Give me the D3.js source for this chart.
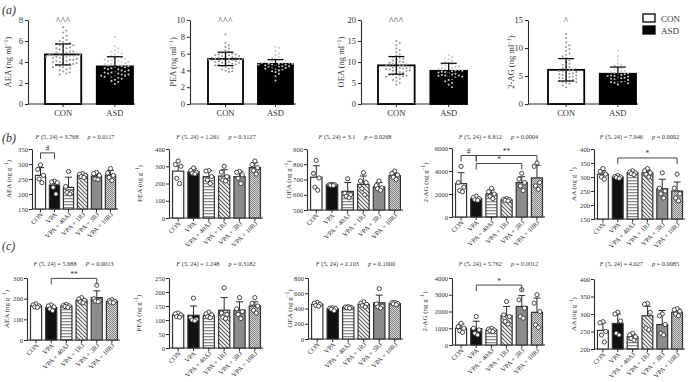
<!DOCTYPE html>
<html><head><meta charset="utf-8">
<script src="https://cdn.jsdelivr.net/npm/d3@7"></script>
<style>
body{margin:0;background:#fff}
svg{display:block}
text{font-family:"Liberation Serif","Times New Roman",serif;fill:#333}
</style>
</head><body>
<svg id="chart" width="689" height="382"></svg>
<script>
// ---------------- DATA ----------------
// Row (a): human plasma, CON vs ASD
const cohortGroups = ["CON", "ASD"];
const aAnalytes = ["AEA", "PEA", "OEA", "2-AG"];
const aTicks_AEA = [0, 2, 4, 6, 8];
const aTicks_PEA = [0, 2, 4, 6, 8, 10];
const aTicks_OEA = [0, 5, 10, 15, 20];
const aTicks_AG = [0, 5, 10, 15];
const aMean_AEA = [4.72, 3.58], aSd_AEA = [1.0, 0.92];
const aMean_PEA = [5.37, 4.78], aSd_PEA = [0.8, 0.5];
const aMean_OEA = [9.2, 7.9], aSd_OEA = [2.1, 1.8];
const aMean_AG = [6.1, 5.4], aSd_AG = [2.0, 1.2];
const aSig = ["^^^", "^^^", "^^^", "^"];
const aAEA_CON = [7.3,7.0,6.8,6.5,6.3,6.1,6.0,5.9,5.8,5.7,5.7,5.6,5.6,5.5,5.4,5.3,5.3,5.2,5.1,5.0,5.0,4.9,4.9,4.8,4.8,4.8,4.7,4.7,4.7,4.6,4.6,4.5,4.5,4.5,4.4,4.4,4.3,4.3,4.2,4.2,4.1,4.1,4.0,4.0,3.9,3.9,3.8,3.8,3.7,3.7,3.6,3.5,3.5,3.4,3.3,3.2,3.1,3.0,2.9,2.8];
const aAEA_ASD = [6.4,5.5,5.3,5.1,5.0,4.9,4.8,4.7,4.6,4.5,4.5,4.4,4.3,4.3,4.2,4.2,4.1,4.1,4.0,4.0,3.9,3.9,3.8,3.8,3.7,3.7,3.6,3.6,3.5,3.5,3.4,3.4,3.3,3.3,3.2,3.2,3.1,3.1,3.0,3.0,2.9,2.9,2.8,2.8,2.7,2.7,2.7,2.6,2.6,2.5,2.4,2.3,2.2,2.1,1.9];
const aPEA_CON = [8.3,7.3,7.0,6.8,6.6,6.4,6.2,6.1,6.0,6.0,5.9,5.9,5.8,5.8,5.7,5.7,5.6,5.6,5.5,5.5,5.5,5.4,5.4,5.4,5.3,5.3,5.3,5.2,5.2,5.1,5.1,5.0,5.0,4.9,4.9,4.8,4.8,4.7,4.7,4.6,4.6,4.5,4.4,4.3,4.2,4.1,4.0,3.9,3.8];
const aPEA_ASD = [6.8,6.7,6.3,6.0,5.8,5.6,5.5,5.4,5.3,5.2,5.2,5.1,5.1,5.0,5.0,4.9,4.9,4.9,4.8,4.8,4.8,4.7,4.7,4.7,4.6,4.6,4.5,4.5,4.4,4.4,4.3,4.3,4.2,4.2,4.1,4.0,3.9,3.8,3.6,3.3,2.8];
const aOEA_CON = [15.0,14.5,14.0,13.2,12.8,12.3,11.8,11.5,11.2,11.0,10.8,10.5,10.3,10.1,10.0,9.8,9.7,9.5,9.4,9.3,9.2,9.1,9.0,8.9,8.8,8.7,8.6,8.5,8.4,8.3,8.2,8.1,8.0,7.9,7.8,7.6,7.4,7.2,7.0,6.9,6.8,6.7,6.6,6.5,6.3,6.0,5.7,5.4,5.0,4.6];
const aOEA_ASD = [11.6,11.2,10.9,10.6,10.3,10.0,9.8,9.6,9.5,9.4,9.2,9.0,8.9,8.8,8.6,8.5,8.4,8.3,8.2,8.1,8.0,7.9,7.8,7.7,7.6,7.5,7.4,7.2,7.0,6.9,6.8,6.8,6.7,6.6,6.5,6.3,6.0,5.7,5.4,5.0,4.6,4.0];
const aAG_CON = [12.5,11.8,11.0,10.5,10.2,9.8,9.5,9.0,8.8,8.5,8.2,7.8,7.5,7.2,7.0,6.8,6.6,6.4,6.2,6.1,6.0,5.9,5.8,5.7,5.6,5.5,5.4,5.3,5.2,5.1,5.0,4.9,4.8,4.7,4.6,4.5,4.4,4.3,4.2,4.1,4.0,3.9,3.8,3.6,3.3,3.0];
const aAG_ASD = [9.5,8.5,7.8,7.2,7.0,6.8,6.6,6.4,6.2,6.0,5.9,5.8,5.7,5.6,5.5,5.4,5.3,5.2,5.1,5.0,5.0,4.9,4.8,4.7,4.6,4.5,4.4,4.3,4.2,4.1,4.0,3.9,3.8,3.7,3.5];

// Rows (b) and (c): treatment groups
const treatments = ["CON", "VPA", "VPA + 40AJ", "VPA + 1RJ", "VPA + 3RJ", "VPA + 10RJ"];
const bcAnalytes = ["AEA", "PEA", "OEA", "2-AG", "AA"];
const bF = ["3.768", "1.261", "3.1", "6.812", "7.946"];
const bP = ["0.0117", "0.3127", "0.0268", "0.0004", "0.0002"];
const cF = ["5.688", "1.248", "2.103", "5.762", "4.027"];
const cP = ["0.0013", "0.3182", "0.1000", "0.0012", "0.0085"];

const bTicks_AEA = [150, 200, 250, 300, 350];
const bMean_AEA = [262, 230, 222, 263, 260, 263];
const bSd_AEA = [26, 12, 34, 6, 10, 16];
const bPts_AEA = [[297,282,262,250,238],[243,240,238,222,200],[275,225,205,205,200],[268,266,262,258,255],[272,268,262,250,248],[285,270,262,255,245]];
const bTicks_PEA = [0, 100, 200, 300, 400];
const bMean_PEA = [272, 268, 240, 243, 240, 292];
const bSd_PEA = [30, 17, 35, 37, 30, 28];
const bPts_PEA = [[330,310,300,230,200],[290,275,265,260,255],[275,272,240,220,200],[300,265,240,220,215],[270,265,250,230,200],[330,310,292,275,255]];
const bTicks_OEA = [500, 600, 700, 800, 900];
const bMean_OEA = [715, 665, 622, 668, 652, 725];
const bSd_OEA = [75, 4, 58, 55, 28, 15];
const bPts_OEA = [[825,740,710,650,630],[668,666,665,662,660],[705,610,600,590,580],[745,690,680,640,600],[690,660,645,640,630],[755,740,730,715,700]];
const bTicks_AG = [0, 2000, 4000, 6000];
const bMean_AG = [2900, 1600, 2000, 1500, 3000, 3400];
const bSd_AG = [950, 150, 350, 100, 500, 1100];
const bPts_AG = [[4400,3000,2600,2300,2200],[1800,1700,1600,1500,1450],[2500,2200,2000,1800,1600],[1600,1550,1500,1450,1400],[3800,3300,3000,2700,2300],[4700,4400,3000,2700,2400]];
const bTicks_AA = [150, 200, 250, 300, 350, 400];
const bMean_AA = [310, 300, 315, 315, 258, 250];
const bSd_AA = [12, 5, 5, 10, 34, 32];
const bPts_AA = [[330,320,310,300,292],[305,302,300,298,295],[322,318,315,312,308],[330,322,315,310,300],[315,260,250,240,225],[310,260,240,225,215]];

const cTicks_AEA = [0, 100, 200, 300];
const cMean_AEA = [165, 157, 165, 192, 205, 187];
const cSd_AEA = [7, 8, 7, 8, 33, 5];
const cPts_AEA = [[175,170,165,160,158],[170,165,160,150,142],[172,168,165,162,158],[205,198,192,185,180],[265,200,190,188,185],[195,190,187,183,180]];
const cTicks_PEA = [0, 50, 100, 150, 200, 250];
const cMean_PEA = [118, 117, 117, 135, 135, 150];
const cSd_PEA = [7, 33, 8, 45, 30, 15];
const cPts_PEA = [[125,122,118,112,110],[178,108,102,100,97],[128,122,118,112,108],[215,125,120,110,105],[180,140,130,120,105],[180,160,150,135,125]];
const cTicks_OEA = [0, 200, 400, 600, 800];
const cMean_OEA = [455, 395, 415, 455, 475, 465];
const cSd_OEA = [15, 15, 10, 15, 100, 10];
const cPts_OEA = [[480,470,455,440,430],[410,405,400,390,370],[425,420,415,410,405],[490,470,455,440,420],[660,460,430,420,405],[480,475,465,460,450]];
const cTicks_AG = [0, 1000, 2000, 3000, 4000];
const cMean_AG = [1000, 980, 900, 1750, 2300, 1950];
const cSd_AG = [250, 440, 100, 550, 650, 850];
const cPts_AG = [[1300,1100,1000,850,750],[1700,1000,900,700,600],[1000,950,900,850,800],[2600,1800,1700,1400,1250],[3300,2700,2200,1700,1600],[3000,2500,2000,1200,1050]];
const cTicks_AA = [200, 250, 300, 350, 400];
const cMean_AA = [253, 273, 235, 295, 270, 305];
const cSd_AA = [22, 27, 7, 27, 40, 10];
const cPts_AA = [[278,275,250,240,220],[305,300,280,245,240],[245,240,235,230,225],[330,328,305,260,255],[300,295,270,245,240],[315,312,308,300,295]];

// significance brackets: [fromIndex, toIndex, label, level]
const bBr_AEA = [[0, 1, "#", 337]];
const bBr_AG = [[0, 1, "#", 5350], [1, 5, "**", 5350], [1, 4, "*", 4650]];
const bBr_AA = [[1, 5, "*", 368]];
const cBr_AEA = [[1, 4, "**", 298]];
const cBr_AG = [[1, 4, "*", 3580]];

// ---------------- LAYOUT / STYLE ----------------
const svg = d3.select("#chart");
const ink = "#2b2b2b";
const txt = "#333";
const serif = '"Liberation Serif","Times New Roman",serif';
const defs = svg.append("defs");
function pattern(id, w, h, draw) {
  const p = defs.append("pattern").attr("id", id).attr("patternUnits", "userSpaceOnUse")
    .attr("width", w).attr("height", h);
  draw(p, w, h);
}
pattern("hl", 4, 3, (p, w, h) => {
  p.append("rect").attr("width", w).attr("height", h).attr("fill", "#fff");
  p.append("rect").attr("width", w).attr("height", 1.3).attr("fill", "#8a8a8a");
});
pattern("dg", 4, 4, (p) => {
  p.append("rect").attr("width", 4).attr("height", 4).attr("fill", "#fff");
  p.append("path").attr("d", "M-1,-1L5,5M-1,3L1,5M3,-1L5,1").attr("stroke", "#5a5a5a").attr("stroke-width", 1.1);
});
pattern("ck", 2, 2, (p) => {
  p.append("rect").attr("width", 2).attr("height", 2).attr("fill", "#d8d8d8");
  p.append("rect").attr("width", 1).attr("height", 1).attr("fill", "#808080");
  p.append("rect").attr("x", 1).attr("y", 1).attr("width", 1).attr("height", 1).attr("fill", "#808080");
});
const treatFill = ["#fff", "#111", "url(#hl)", "url(#dg)", "#8c8c8c", "url(#ck)"];

function T(sel) { return sel.append("text").attr("fill", txt).attr("font-family", serif); }
function unitLabel(sel, name, unit) {
  sel.append("tspan").text(name + " (" + unit);
  sel.append("tspan").attr("dy", -3).attr("font-size", "0.72em").text("\u22121");
  sel.append("tspan").attr("dy", 3).text(")");
}
function styleAxis(g, fs) {
  g.attr("font-family", serif);
  g.select(".domain").attr("stroke", ink).attr("stroke-width", 1.1);
  g.selectAll(".tick line").attr("stroke", ink).attr("stroke-width", 1);
  g.selectAll(".tick text").attr("fill", txt).attr("font-size", fs).attr("font-family", serif);
}

// panel letters
[["(a)", 14], ["(b)", 142], ["(c)", 250]].forEach(([t, y]) => {
  T(svg).attr("x", 2).attr("y", y).attr("font-size", 12).attr("font-style", "italic").text(t);
});

// ---------- row (a) ----------
const aLayout = [
  { ax: 28, ax1: 135, bx0: 45, bx1: 133, lx: 11 },
  { ax: 190, ax1: 296, bx0: 208, bx1: 293, lx: 176 },
  { ax: 361, ax1: 468, bx0: 378, bx1: 467, lx: 344 },
  { ax: 528, ax1: 638, bx0: 548, bx1: 636, lx: 514 }
];
const aTicksAll = [aTicks_AEA, aTicks_PEA, aTicks_OEA, aTicks_AG];
const aMeans = [aMean_AEA, aMean_PEA, aMean_OEA, aMean_AG];
const aSds = [aSd_AEA, aSd_PEA, aSd_OEA, aSd_AG];
const aPts = [[aAEA_CON, aAEA_ASD], [aPEA_CON, aPEA_ASD], [aOEA_CON, aOEA_ASD], [aAG_CON, aAG_ASD]];
const aYTop = 20, aYBot = 104;

function beeswarm(vals, y, cx, r, gap, maxHalf) {
  const placed = [];
  const sorted = vals.slice().sort((a, b) => b - a);
  const step = 2 * r + gap;
  sorted.forEach(v => {
    const py = y(v);
    let best = null;
    for (let k = 0; k < 60 && best === null; k++) {
      const off = (k % 2 ? 1 : -1) * Math.ceil(k / 2) * step;
      if (Math.abs(off) > maxHalf) continue;
      const ok = placed.every(p => Math.hypot(p.x - (cx + off), p.y - py) >= step - 0.2);
      if (ok) best = off;
    }
    if (best === null) best = 0;
    placed.push({ x: cx + best, y: py });
  });
  return placed;
}

aAnalytes.forEach((an, i) => {
  const L = aLayout[i], ticks = aTicksAll[i];
  const g = svg.append("g");
  const y = d3.scaleLinear().domain([ticks[0], ticks[ticks.length - 1]]).range([aYBot, aYTop]);
  const x = d3.scaleBand().domain(cohortGroups).range([L.bx0, L.bx1]).paddingInner(0.3).paddingOuter(0);
  const ya = g.append("g").attr("transform", `translate(${L.ax},0)`)
    .call(d3.axisLeft(y).tickValues(ticks).tickSize(3).tickSizeOuter(0).tickPadding(2).tickFormat(d3.format("d")));
  styleAxis(ya, 8.5);
  g.append("line").attr("x1", L.ax).attr("x2", L.ax1).attr("y1", aYBot).attr("y2", aYBot).attr("stroke", ink).attr("stroke-width", 1.1);
  cohortGroups.forEach((c, j) => {
    const cx = x(c) + x.bandwidth() / 2;
    g.append("line").attr("x1", cx).attr("x2", cx).attr("y1", aYBot).attr("y2", aYBot + 3).attr("stroke", ink);
    T(g).attr("x", cx).attr("y", aYBot + 12).attr("text-anchor", "middle").attr("font-size", 8.5).text(c);
    const m = aMeans[i][j], s = aSds[i][j];
    g.append("rect").attr("x", x(c)).attr("y", y(m)).attr("width", x.bandwidth()).attr("height", aYBot - y(m))
      .attr("fill", j === 0 ? "#fff" : "#000").attr("stroke", "#000").attr("stroke-width", 1.8);
    const pts = beeswarm(aPts[i][j], y, cx, 1.05, 1.3, x.bandwidth() / 2 + 2);
    g.selectAll(null).data(pts).enter().append("circle")
      .attr("cx", d => d.x).attr("cy", d => d.y).attr("r", 1.05)
      .attr("fill", j === 0 ? "#9a9a9a" : "#c8c8c8");
    g.append("line").attr("x1", cx).attr("x2", cx).attr("y1", y(m - s)).attr("y2", y(m + s)).attr("stroke", "#000").attr("stroke-width", 1.2);
    [m - s, m + s].forEach(v => g.append("line").attr("x1", cx - 8).attr("x2", cx + 8).attr("y1", y(v)).attr("y2", y(v)).attr("stroke", "#000").attr("stroke-width", 1.2));
  });
  T(g).attr("x", x("CON") + x.bandwidth() / 2).attr("y", aYTop + 4).attr("text-anchor", "middle")
    .attr("font-size", 9.5).attr("letter-spacing", 0.5).text(aSig[i]);
  T(g).attr("transform", `translate(${L.lx},${(aYTop + aYBot) / 2}) rotate(-90)`)
    .attr("text-anchor", "middle").attr("font-size", 8.5).call(t => unitLabel(t, an, "ng ml"));
});
// legend
cohortGroups.forEach((c, j) => {
  const yy = 14 + j * 12;
  svg.append("rect").attr("x", 643).attr("y", yy).attr("width", 12).attr("height", 8)
    .attr("fill", j === 0 ? "#fff" : "#000").attr("stroke", "#000").attr("stroke-width", 1.3);
  T(svg).attr("x", 661).attr("y", yy + 7.5).attr("font-size", 9).text(c);
});

// ---------- rows (b) and (c) ----------
function drawTreat(L, an, ticks, means, sds, pts, brackets, F, P, pUpper, pItalicVal) {
  const g = svg.append("g");
  const y = d3.scaleLinear().domain([ticks[0], ticks[ticks.length - 1]]).range([L.yb, L.yt]);
  const x = d3.scaleBand().domain(treatments).range([L.x0 + 2, L.x1 - 1]).paddingInner(0.27).paddingOuter(0.1);
  const ya = g.append("g").attr("transform", `translate(${L.x0},0)`)
    .call(d3.axisLeft(y).tickValues(ticks).tickSize(3).tickSizeOuter(0).tickPadding(1).tickFormat(d3.format("d")));
  styleAxis(ya, 6.6);
  g.append("line").attr("x1", L.x0).attr("x2", L.x1).attr("y1", L.yb).attr("y2", L.yb).attr("stroke", ink).attr("stroke-width", 1.1);
  treatments.forEach((t, j) => {
    const cx = x(t) + x.bandwidth() / 2;
    const m = means[j], s = sds[j];
    g.append("line").attr("x1", cx).attr("x2", cx).attr("y1", L.yb).attr("y2", L.yb + 3).attr("stroke", ink);
    T(g).attr("transform", `translate(${cx + 3},${L.yb + 6}) rotate(-45)`)
      .attr("text-anchor", "end").attr("font-size", 6.7).text(t);
    g.append("line").attr("x1", cx).attr("x2", cx).attr("y1", y(m)).attr("y2", y(m + s)).attr("stroke", ink).attr("stroke-width", 1);
    g.append("line").attr("x1", cx - 3.5).attr("x2", cx + 3.5).attr("y1", y(m + s)).attr("y2", y(m + s)).attr("stroke", ink).attr("stroke-width", 1);
    g.append("rect").attr("x", x(t)).attr("y", y(m)).attr("width", x.bandwidth()).attr("height", L.yb - y(m))
      .attr("fill", treatFill[j]).attr("stroke", "#333").attr("stroke-width", 1.2);
    const offs = [0, -2.8, 2.8, -1.4, 1.4];
    const sorted = pts[j].slice().sort((a, b) => b - a);
    g.selectAll(null).data(sorted).enter().append("circle")
      .attr("cx", (d, k) => cx + offs[k % offs.length]).attr("cy", d => y(d)).attr("r", 2.1)
      .attr("fill", "#fff").attr("stroke", "#333").attr("stroke-width", 0.9);
  });
  brackets.forEach(([a, b, lab, lev]) => {
    const xa = x(treatments[a]) + x.bandwidth() / 2, xb = x(treatments[b]) + x.bandwidth() / 2, yy = y(lev);
    g.append("path").attr("d", `M${xa},${yy + 6}V${yy}H${xb}V${yy + 6}`).attr("fill", "none").attr("stroke", "#444").attr("stroke-width", 1);
    T(g).attr("x", (xa + xb) / 2).attr("y", yy - 1.5).attr("text-anchor", "middle").attr("font-size", 7.5).text(lab);
  });
  // title
  const tt = T(g).attr("x", (L.x0 + L.x1) / 2).attr("y", L.ty).attr("text-anchor", "middle").attr("font-size", 6.3);
  tt.append("tspan").attr("font-style", "italic").text("F");
  tt.append("tspan").text(" (5, 24) = " + F);
  tt.append("tspan").attr("dx", 9).attr("font-style", "italic").text(pUpper ? "P" : "p");
  tt.append("tspan").text(" = ");
  tt.append("tspan").attr("font-style", pItalicVal ? "italic" : "normal").text(P);
  T(g).attr("transform", `translate(${L.lx},${(L.yt + L.yb) / 2}) rotate(-90)`)
    .attr("text-anchor", "middle").attr("font-size", 7).call(t => unitLabel(t, an, "ng g"));
}

const bLayout = [
  { x0: 32, x1: 118, yt: 149, yb: 209, lx: 11, ty: 139 },
  { x0: 169, x1: 263, yt: 149, yb: 218, lx: 142, ty: 139 },
  { x0: 307, x1: 403, yt: 149, yb: 210, lx: 291, ty: 139 },
  { x0: 452, x1: 545, yt: 148, yb: 217, lx: 428, ty: 139 },
  { x0: 594, x1: 685, yt: 149, yb: 219, lx: 576, ty: 139 }
];
const cLayout = [
  { x0: 27, x1: 120, yt: 278, yb: 340, lx: 9, ty: 266 },
  { x0: 169, x1: 263, yt: 278, yb: 348, lx: 141, ty: 266 },
  { x0: 308, x1: 403, yt: 278, yb: 339, lx: 292, ty: 266 },
  { x0: 452, x1: 545, yt: 278, yb: 345, lx: 427, ty: 266 },
  { x0: 594, x1: 685, yt: 279, yb: 349, lx: 576, ty: 266 }
];
const bTicks = [bTicks_AEA, bTicks_PEA, bTicks_OEA, bTicks_AG, bTicks_AA];
const bMeans = [bMean_AEA, bMean_PEA, bMean_OEA, bMean_AG, bMean_AA];
const bSds = [bSd_AEA, bSd_PEA, bSd_OEA, bSd_AG, bSd_AA];
const bPts = [bPts_AEA, bPts_PEA, bPts_OEA, bPts_AG, bPts_AA];
const bBrs = [bBr_AEA, [], [], bBr_AG, bBr_AA];
const cTicks = [cTicks_AEA, cTicks_PEA, cTicks_OEA, cTicks_AG, cTicks_AA];
const cMeans = [cMean_AEA, cMean_PEA, cMean_OEA, cMean_AG, cMean_AA];
const cSds = [cSd_AEA, cSd_PEA, cSd_OEA, cSd_AG, cSd_AA];
const cPts = [cPts_AEA, cPts_PEA, cPts_OEA, cPts_AG, cPts_AA];
const cBrs = [cBr_AEA, [], [], cBr_AG, []];

bcAnalytes.forEach((an, i) => {
  drawTreat(bLayout[i], an, bTicks[i], bMeans[i], bSds[i], bPts[i], bBrs[i], bF[i], bP[i], false, false);
  drawTreat(cLayout[i], an, cTicks[i], cMeans[i], cSds[i], cPts[i], cBrs[i], cF[i], cP[i], i === 0, i === 3);
});
</script>
</body></html>
